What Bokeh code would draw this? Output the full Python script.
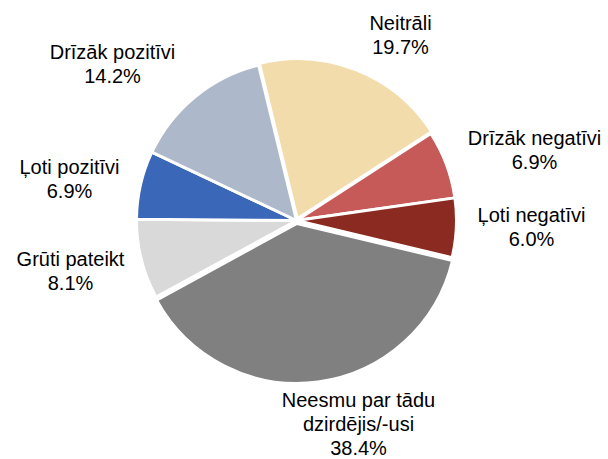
import math
from bokeh.plotting import figure
from bokeh.models import ColumnDataSource
from bokeh.core.properties import value
from bokeh.embed import file_html
from bokeh.resources import INLINE

categories = ["Neitrāli", "Drīzāk negatīvi", "Ļoti negatīvi", "Neesmu par tādu\ndzirdējis/-usi",
              "Grūti pateikt", "Ļoti pozitīvi", "Drīzāk pozitīvi"]
values = [19.7, 6.9, 6.0, 38.4, 8.1, 6.9, 14.2]
colors = ["#F2DCAB", "#C55A59", "#8B2A20", "#808080", "#D9D9D9", "#3B67B8", "#ADB9CA"]

# layout
W, H = 608, 459
CX, CY, R = 296, 239, 160
START_DEG = -13.7  # clockwise from 12 o'clock
explode = [2, 0, 0, 3, 0, 0, 0]
# label block centres (pixel offsets relative to pie centre)
label_off = [(104, 186), (238, 71), (235, -6), (62, -203), (-226, -50), (-227, 42), (-184, 157)]
LINE = 24

total = sum(values)
starts, ends, xs, ys = [], [], [], []
acc = START_DEG
for i, v in enumerate(values):
    a1 = acc
    a2 = acc + 360.0 * v / total
    acc = a2
    mid = math.radians((a1 + a2) / 2)
    xs.append(CX + explode[i] * math.sin(mid))
    ys.append(CY + explode[i] * math.cos(mid))
    starts.append(math.radians(90 - a2))
    ends.append(math.radians(90 - a1))

src = ColumnDataSource(dict(x=xs, y=ys, s=starts, e=ends, c=colors))

p = figure(width=W, height=H, x_range=(0, W), y_range=(0, H), output_backend="svg",
           toolbar_location=None, min_border=0)
p.axis.visible = False
p.grid.visible = False
p.outline_line_color = None

p.wedge(x="x", y="y", radius=R, start_angle="s", end_angle="e", fill_color="c",
        line_color="white", line_width=3, source=src)

texts, tx, ty = [], [], []
for i, (cat, v) in enumerate(zip(categories, values)):
    lines = cat.split("\n") + [f"{v:.1f}%"]
    n = len(lines)
    for j, t in enumerate(lines):
        texts.append(t)
        tx.append(CX + label_off[i][0])
        ty.append(CY + label_off[i][1] + (n - 1) / 2 * LINE - j * LINE)

p.text(x=tx, y=ty, text=texts, text_align="center", text_baseline="middle",
       text_font=value("Liberation Sans"), text_font_size="20px", text_color="#000000")

open("out.html", "w").write(file_html(p, INLINE))
